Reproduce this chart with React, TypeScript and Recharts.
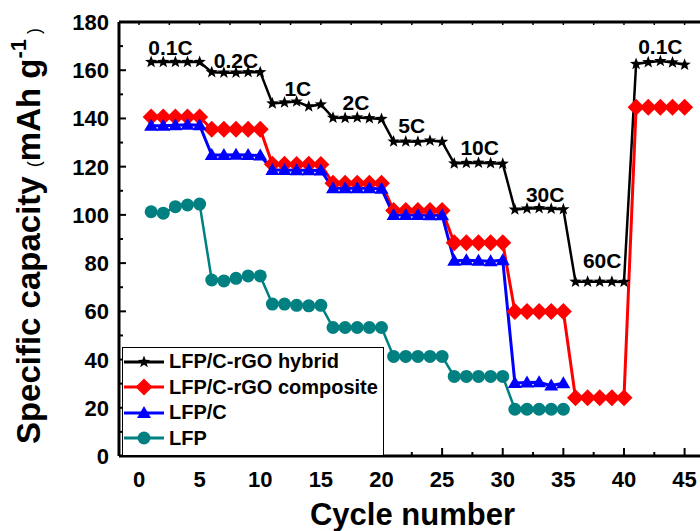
import React from 'react'
import { LineChart, Line, XAxis, YAxis, ReferenceDot, Legend } from 'recharts'

const cycles = [
  1, 2, 3, 4, 5, 6, 7, 8, 9, 10, 11, 12, 13, 14, 15, 16, 17, 18, 19, 20, 21, 22, 23,
  24, 25, 26, 27, 28, 29, 30, 31, 32, 33, 34, 35, 36, 37, 38, 39, 40, 41, 42, 43, 44, 45,
]

const hybrid = [
  163.4, 163.4, 163.4, 163.4, 163.4, 159.2, 159.0, 159.0, 159.2, 159.2,
  146.2, 146.6, 147.0, 145.0, 145.8, 140.3, 140.2, 140.4, 140.1, 139.8,
  130.4, 130.4, 130.3, 130.8, 130.3, 121.3, 121.5, 121.6, 121.4, 121.2,
  102.2, 102.6, 102.8, 102.5, 102.3, 72.3, 72.3, 72.3, 72.3, 72.2,
  162.6, 163.3, 163.8, 163.2, 162.3,
]
const composite = [
  140.6, 140.6, 140.6, 140.6, 140.6, 135.5, 135.5, 135.5, 135.5, 135.5,
  121.0, 121.0, 120.9, 121.0, 120.9, 113.1, 113.1, 113.1, 113.1, 113.1,
  101.8, 101.8, 101.8, 101.8, 101.8, 88.4, 88.4, 88.4, 88.4, 88.4,
  59.9, 59.9, 59.9, 59.9, 59.9, 24.2, 24.2, 24.2, 24.2, 24.2,
  144.6, 144.6, 144.6, 144.6, 144.6,
]
const lfpC = [
  137.0, 137.0, 137.2, 137.4, 137.2, 124.8, 124.8, 124.9, 124.8, 124.6,
  118.6, 118.6, 118.5, 118.5, 118.4, 111.0, 111.0, 111.0, 111.0, 110.8,
  100.0, 100.0, 100.0, 99.8, 99.8, 81.0, 81.2, 81.0, 80.8, 81.2,
  30.3, 30.5, 30.6, 29.2, 30.2,
]
const lfp = [
  101.3, 100.7, 103.4, 104.1, 104.5, 73.0, 72.6, 73.7, 74.7, 74.7,
  63.0, 63.0, 62.5, 62.3, 62.5, 53.3, 53.3, 53.3, 53.3, 53.3,
  41.3, 41.3, 41.3, 41.3, 41.3, 33.0, 33.0, 33.0, 33.0, 33.0,
  19.4, 19.4, 19.4, 19.4, 19.4,
]

const rateNames = ['0.1C', '0.2C', '1C', '2C', '5C', '10C', '30C', '60C', '0.1C']
const rateCycles = [2.6, 8.0, 13.1, 17.9, 22.5, 28.1, 33.5, 38.2, 43.0]
const rateValues = [169.6, 164.2, 152.4, 146.8, 136.9, 128.0, 108.5, 81.0, 170.0]

const xTicks = [0, 2.5, 5, 7.5, 10, 12.5, 15, 17.5, 20, 22.5, 25, 27.5, 30, 32.5, 35, 37.5, 40, 42.5, 45]
const yTicks = [0, 10, 20, 30, 40, 50, 60, 70, 80, 90, 100, 110, 120, 130, 140, 150, 160, 170, 180]

const seriesKeys = ['hybrid', 'composite', 'lfpC', 'lfp']
const seriesNames = ['LFP/C-rGO hybrid', 'LFP/C-rGO composite', 'LFP/C', 'LFP']

const rows = cycles.map((c, i) => ({
  cycle: c,
  hybrid: hybrid[i] ?? null,
  composite: composite[i] ?? null,
  lfpC: lfpC[i] ?? null,
  lfp: lfp[i] ?? null,
}))

const FONT = "'Liberation Sans', Arial, Helvetica, sans-serif"

const COLORS: Record<string, string> = {
  hybrid: '#000000',
  composite: '#ff0000',
  lfpC: '#0000ff',
  lfp: '#008080',
}

function starPath(cx: number, cy: number, ro: number, ri: number) {
  let d = ''
  for (let k = 0; k < 10; k++) {
    const r = k % 2 === 0 ? ro : ri
    const a = -Math.PI / 2 + (k * Math.PI) / 5
    d += (k === 0 ? 'M' : 'L') + (cx + r * Math.cos(a)).toFixed(2) + ',' + (cy + r * Math.sin(a)).toFixed(2)
  }
  return d + 'Z'
}

function Marker({ kind, cx, cy }: { kind: string; cx: number; cy: number }) {
  const c = COLORS[kind]
  if (kind === 'hybrid') return <path d={starPath(cx, cy, 6.5, 2.7)} fill={c} />
  if (kind === 'composite')
    return <path d={`M${cx},${cy - 8.5}L${cx + 8.5},${cy}L${cx},${cy + 8.5}L${cx - 8.5},${cy}Z`} fill={c} />
  if (kind === 'lfpC')
    return <path d={`M${cx},${cy - 7}L${cx + 7},${cy + 5}L${cx - 7},${cy + 5}Z`} fill={c} />
  return <circle cx={cx} cy={cy} r={6.5} fill={c} />
}

const makeDot = (kind: string) => (props: any) => {
  const { cx, cy, index, value } = props
  if (cx == null || cy == null || value == null) return <g key={`${kind}-${index}`} />
  return (
    <g key={`${kind}-${index}`}>
      <Marker kind={kind} cx={cx} cy={cy} />
    </g>
  )
}

const YTick = (props: any) => {
  const { x, y, payload } = props
  const v = payload.value
  const major = v % 20 === 0
  return (
    <g>
      <line x1={x} x2={x + (major ? 7 : 4)} y1={y} y2={y} stroke="#000" strokeWidth={2} />
      {major && (
        <text x={x - 10} y={y + 8} textAnchor="end" fontSize={22} fontWeight={700} fontFamily={FONT} fill="#000">
          {v}
        </text>
      )}
    </g>
  )
}

const XTick = (props: any) => {
  const { x, y, payload } = props
  const v = payload.value
  const major = v % 5 === 0
  return (
    <g>
      <line x1={x} x2={x} y1={y} y2={y - (major ? 8 : 4)} stroke="#000" strokeWidth={2} />
      {major && (
        <text x={x} y={y + 31} textAnchor="middle" fontSize={22} fontWeight={700} fontFamily={FONT} fill="#000">
          {v}
        </text>
      )}
    </g>
  )
}

const TopTick = (props: any) => {
  const { x, y } = props
  return <line x1={x} x2={x} y1={y} y2={y + 3} stroke="#000" strokeWidth={1.5} />
}

const LegendBox = () => (
  <div
    style={{
      width: 262,
      height: 109,
      boxSizing: 'border-box',
      border: '1.5px solid #000',
      background: '#fff',
      paddingTop: 1,
    }}
  >
    {seriesKeys.map((key, i) => (
      <div key={key} style={{ display: 'flex', alignItems: 'center', height: 25.5 }}>
        <svg width={42} height={22} style={{ flex: 'none' }}>
          <line x1={1} x2={41} y1={11} y2={11} stroke={COLORS[key]} strokeWidth={3} />
          <Marker kind={key} cx={21} cy={11} />
        </svg>
        <span
          style={{
            marginLeft: 4,
            fontFamily: FONT,
            fontWeight: 700,
            fontSize: 20,
            color: '#000',
            whiteSpace: 'nowrap',
          }}
        >
          {seriesNames[i]}
        </span>
      </div>
    ))}
  </div>
)

const YTitle = () => (
  <text
    transform="translate(40,236) rotate(-90)"
    textAnchor="middle"
    fontFamily={FONT}
    fill="#000"
  >
    <tspan fontSize={33} fontWeight={700}>Specific capacity </tspan>
    <tspan fontSize={18}>(</tspan>
    <tspan fontSize={33} fontWeight={700}>mAh g</tspan>
    <tspan fontSize={22} fontWeight={700} dy={-14}>-1</tspan>
    <tspan fontSize={18} dy={14}> )</tspan>
  </text>
)

export default function App() {
  return (
    <div style={{ position: 'absolute', left: 0, top: 0, width: 700, height: 531, background: '#fff' }}>
      <LineChart width={700} height={531} data={rows} margin={{ top: 21, right: 0, bottom: 0, left: 0 }}>
        <XAxis
          xAxisId="bottom"
          type="number"
          dataKey="cycle"
          domain={[-1.65, 46.27]}
          ticks={xTicks}
          interval={0}
          allowDataOverflow
          height={75}
          tickSize={0}
          tickMargin={0}
          tickLine={false}
          tick={<XTick />}
          axisLine={{ stroke: '#000', strokeWidth: 3 }}
          label={{
            content: (p: any) => (
              <text
                x={p.viewBox.x + p.viewBox.width / 2 + 3}
                y={p.viewBox.y + 69}
                textAnchor="middle"
                fontFamily={FONT}
                fontWeight={700}
                fontSize={31}
                fill="#000"
              >
                Cycle number
              </text>
            ),
          }}
        />
        <XAxis
          xAxisId="top"
          orientation="top"
          type="number"
          dataKey="cycle"
          domain={[-1.65, 46.27]}
          ticks={xTicks}
          interval={0}
          allowDataOverflow
          height={1}
          tickSize={0}
          tickMargin={0}
          tickLine={false}
          tick={<TopTick />}
          axisLine={{ stroke: '#000', strokeWidth: 3 }}
        />
        <YAxis
          type="number"
          domain={[0, 180]}
          ticks={yTicks}
          interval={0}
          width={119}
          tickSize={0}
          tickMargin={0}
          tickLine={false}
          tick={<YTick />}
          axisLine={{ stroke: '#000', strokeWidth: 3 }}
          label={{ content: () => <YTitle /> }}
        />
        {seriesKeys.map((key) => (
          <Line
            key={key}
            xAxisId="bottom"
            dataKey={key}
            stroke={COLORS[key]}
            strokeWidth={key === 'hybrid' || key === 'lfp' ? 2.5 : 3}
            dot={makeDot(key)}
            activeDot={false}
            isAnimationActive={false}
          />
        ))}
        {rateNames.map((name, i) => (
          <ReferenceDot
            key={`rate-${i}`}
            xAxisId="bottom"
            x={rateCycles[i]}
            y={rateValues[i]}
            r={0}
            fill="none"
            stroke="none"
            ifOverflow="visible"
            label={{
              value: name,
              position: 'center',
              fill: '#000',
              fontSize: 21,
              fontWeight: 700,
              fontFamily: FONT,
            }}
          />
        ))}
        <Legend
          layout="vertical"
          align="center"
          verticalAlign="middle"
          wrapperStyle={{ left: 122, top: 347, width: 262, height: 109 }}
          content={<LegendBox />}
        />
      </LineChart>
    </div>
  )
}
